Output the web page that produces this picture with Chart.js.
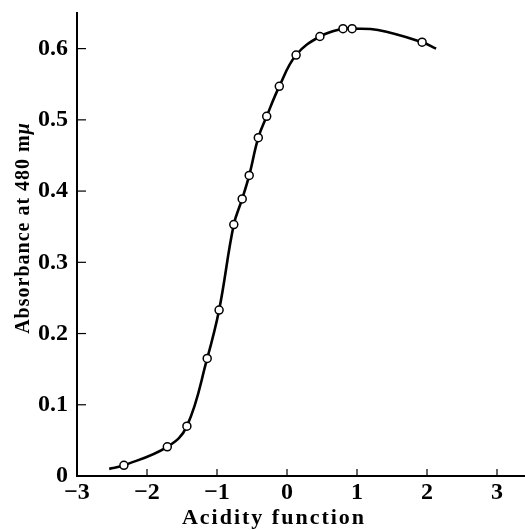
<!DOCTYPE html>
<html>
<head>
<meta charset="utf-8">
<script src="https://cdn.jsdelivr.net/npm/chart.js@4.4.0/dist/chart.umd.min.js"></script>
<style>
  body { margin: 0; background: #fff; }
  #box { width: 525px; height: 530px; position: relative; }
</style>
</head>
<body>
<div id="box"><canvas id="grafico"></canvas></div>
<script>
// measured points (circles)
const acidity = [-2.33, -1.71, -1.43, -1.14, -0.97, -0.76, -0.64, -0.54, -0.41, -0.29, -0.11, 0.13, 0.47, 0.80, 0.93, 1.93];
const absorbance = [0.015, 0.041, 0.070, 0.165, 0.233, 0.353, 0.389, 0.422, 0.475, 0.505, 0.547, 0.591, 0.617, 0.628, 0.628, 0.609];

// drawn curve
const curveX = [-2.54, -2.33, -1.71, -1.43, -1.14, -0.97, -0.76, -0.64, -0.54, -0.41, -0.29, -0.11, 0.13, 0.47, 0.80, 0.93, 1.30, 1.93, 2.13];
const curveY = [0.010, 0.015, 0.041, 0.070, 0.165, 0.233, 0.353, 0.389, 0.422, 0.475, 0.505, 0.547, 0.591, 0.617, 0.628, 0.628, 0.626, 0.609, 0.600];

const xTicks = [-3, -2, -1, 0, 1, 2, 3];
const yTicks = [0, 0.1, 0.2, 0.3, 0.4, 0.5, 0.6];

const fonte = '"Liberation Serif", "DejaVu Serif", serif';

// ticks pointing inside + axis titles
const extras = {
  id: "extras",
  afterDraw(chart) {
    const ctx = chart.ctx;
    const x = chart.scales.x;
    const y = chart.scales.y;
    const area = chart.chartArea;
    ctx.save();
    ctx.strokeStyle = "#000";
    ctx.lineWidth = 1.2;
    xTicks.forEach((v) => {
      if (v === -3) return;
      const px = x.getPixelForValue(v);
      ctx.beginPath();
      ctx.moveTo(px, area.bottom);
      ctx.lineTo(px, area.bottom - 7);
      ctx.stroke();
    });
    yTicks.forEach((v) => {
      if (v === 0) return;
      const py = y.getPixelForValue(v);
      ctx.beginPath();
      ctx.moveTo(area.left, py);
      ctx.lineTo(area.left + 9, py);
      ctx.stroke();
    });

    ctx.fillStyle = "#000";
    ctx.textAlign = "center";
    ctx.textBaseline = "middle";
    ctx.font = "bold 22px " + fonte;
    ctx.letterSpacing = "2px";
    ctx.fillText("Acidity function", 274, 518);

    // y title, with italic mu
    ctx.translate(24, 228);
    ctx.rotate(-Math.PI / 2);
    ctx.textAlign = "left";
    ctx.letterSpacing = "1px";
    const parte1 = "Absorbance at 480 m";
    const parte2 = "\u03bc";
    ctx.font = "bold 20px " + fonte;
    const w1 = ctx.measureText(parte1).width;
    ctx.font = "italic bold 20px " + fonte;
    const w2 = ctx.measureText(parte2).width;
    const inicio = -(w1 + w2) / 2;
    ctx.font = "bold 20px " + fonte;
    ctx.fillText(parte1, inicio, 0);
    ctx.font = "italic bold 20px " + fonte;
    ctx.fillText(parte2, inicio + w1, 0);
    ctx.restore();
  },
};

new Chart(document.getElementById("grafico"), {
  type: "scatter",
  data: {
    datasets: [
      {
        label: "pontos",
        data: acidity.map((v, i) => ({ x: v, y: absorbance[i] })),
        pointRadius: 4,
        pointBackgroundColor: "#fff",
        pointBorderColor: "#000",
        pointBorderWidth: 1.5,
        clip: false,
      },
      {
        label: "curva",
        data: curveX.map((v, i) => ({ x: v, y: curveY[i] })),
        showLine: true,
        tension: 0.4,
        borderColor: "#000",
        borderWidth: 2.6,
        pointRadius: 0,
        clip: false,
      },
    ],
  },
  options: {
    responsive: true,
    maintainAspectRatio: false,
    animation: false,
    layout: { autoPadding: false, padding: { top: 13, right: 0, bottom: 0, left: 0 } },
    plugins: { legend: { display: false }, tooltip: { enabled: false } },
    scales: {
      x: {
        type: "linear",
        min: -3,
        max: 3.4,
        afterFit: (s) => {
          s.height = 54;
          s.paddingLeft = 0;
          s.paddingRight = 0;
        },
        afterBuildTicks: (s) => { s.ticks = xTicks.map((v) => ({ value: v })); },
        border: { color: "#000", width: 2 },
        grid: { drawOnChartArea: false, drawTicks: false },
        ticks: {
          color: "#000",
          padding: 2,
          maxRotation: 0,
          font: { family: fonte, size: 24, weight: "bold" },
          callback: (v) => (v < 0 ? "\u2212" + Math.abs(v) : String(v)),
        },
      },
      y: {
        type: "linear",
        min: 0,
        max: 0.65,
        afterFit: (s) => {
          s.width = 77;
          s.paddingTop = 0;
          s.paddingBottom = 0;
        },
        afterBuildTicks: (s) => { s.ticks = yTicks.map((v) => ({ value: v })); },
        border: { color: "#000", width: 2 },
        grid: { drawOnChartArea: false, drawTicks: false },
        ticks: {
          color: "#000",
          padding: 9,
          font: { family: fonte, size: 24, weight: "bold" },
          callback: (v) => (v === 0 ? "0" : v.toFixed(1)),
        },
      },
    },
  },
  plugins: [extras],
});
</script>
</body>
</html>
